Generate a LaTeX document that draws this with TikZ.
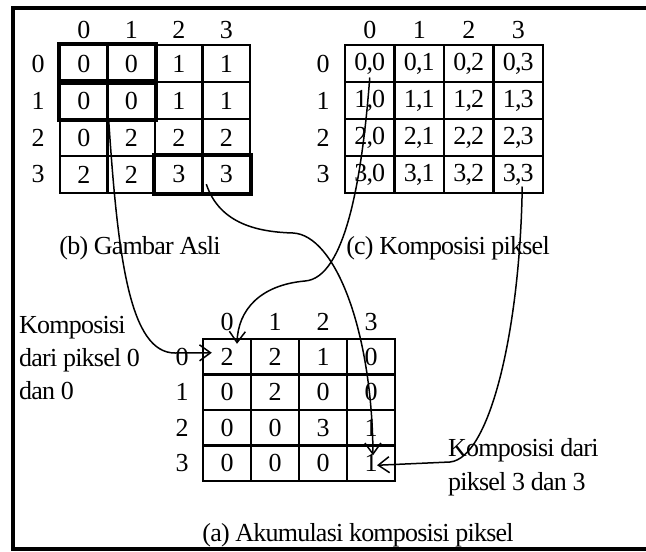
\documentclass[tikz,border=0pt]{standalone}
\usepackage{fontspec}
\setmainfont{Liberation Serif}[LetterSpace=-3]
\usetikzlibrary{arrows.meta}

\begin{document}
\begin{tikzpicture}[x=1pt, y=-1pt, font=\fontsize{26}{33}\selectfont,
    cell/.style={draw, line width=2.4pt, inner sep=0pt},
    pairbox/.style={line width=4.5pt},
    link/.style={line width=1.5pt, -{Straight Barb[length=11pt,width=16pt]}}]
  \useasboundingbox (0,0) rectangle (646,552);
  \draw[line width=3.5pt] (660,8) -- (13,8) -- (13,549) -- (660,549);   %frame

  % (b) original image
  \foreach \row [count=\i from 0] in {{0,0,1,1},{0,0,1,1},{0,2,2,2},{2,2,3,3}} {
    \foreach \v [count=\j from 0] in \row
      \node[cell, minimum width=47.5pt, minimum height=37pt] (b-\i-\j) at ({83.75+47.5*\j},{63.5+37*\i}) {\v};
  }
  \foreach \j in {0,...,3} {
    \node (bh-\j) at ({83.75+47.5*\j},30) {\j};
    \node (bv-\j) at (38,{63.5+37*\j}) {\j};
  }
  \draw[pairbox] (b-0-0.north west) rectangle (b-0-1.south east);
  \draw[pairbox] (b-1-0.north west) rectangle (b-1-1.south east);
  \draw[pairbox] (b-3-2.north west) rectangle (b-3-3.south east);
  \node (bcap) at (140,248) {(b) Gambar Asli};

  % (c) pixel pairs
  \foreach \i in {0,...,3} {
    \foreach \j in {0,...,3}
      \node[cell, minimum width=49.5pt, minimum height=37pt] (c-\i-\j) at ({369.75+49.5*\j},{63.5+37*\i}) {\i,\j};
  }
  \foreach \j in {0,...,3} {
    \node (ch-\j) at ({369.75+49.5*\j},30) {\j};
    \node (cv-\j) at (323,{63.5+37*\j}) {\j};
  }
  \node (ccap) at (448,248) {(c) Komposisi piksel};

  % (a) accumulated pairs
  \foreach \row [count=\i from 0] in {{2,2,1,0},{0,2,0,0},{0,0,3,1},{0,0,0,1}} {
    \foreach \v [count=\j from 0] in \row
      \node[cell, minimum width=48pt, minimum height=35.5pt] (a-\i-\j) at ({227+48*\j},{356.75+35.5*\i}) {\v};
  }
  \foreach \j in {0,...,3} {
    \node (ah-\j) at ({227+48*\j},322) {\j};
    \node (av-\j) at (182,{356.75+35.5*\j}) {\j};
  }
  \node (acap) at (358,535) {(a) Akumulasi komposisi piksel};

  \node[align=left, anchor=west, inner sep=0pt] (note0) at (19,358) {Komposisi\\dari piksel 0\\dan 0};
  \node[align=left, anchor=west, inner sep=0pt, font=\fontsize{26}{34}\selectfont] (note3) at (448,467) {Komposisi dari\\piksel 3 dan 3};

  % pairs to counts
  \draw[link] (b-1-0.south east) .. controls (118,260) and (130,353) .. (175,353) -- ([xshift=10pt,yshift=4pt]a-0-0.west);
  \draw[link] ([shift={(5pt,10pt)}]b-3-3.south west) .. controls (220,225) and (260,232) .. (293,233) .. controls (335,235) and (372,330) .. ([xshift=2pt,yshift=-11pt]a-3-3.north);
  \draw[link] ([yshift=-14pt]c-0-0.center) .. controls (362,180) and (345,278) .. (305,281) .. controls (260,285) and (238,310) .. ([xshift=10pt,yshift=-6pt]a-0-0.north);
  \draw[link] ([shift={(4pt,-12pt)}]c-3-3.center) .. controls (520,330) and (490,458) .. (450,462) -- ([xshift=6pt,yshift=-2pt]a-3-3.center);
\end{tikzpicture}
\end{document}
